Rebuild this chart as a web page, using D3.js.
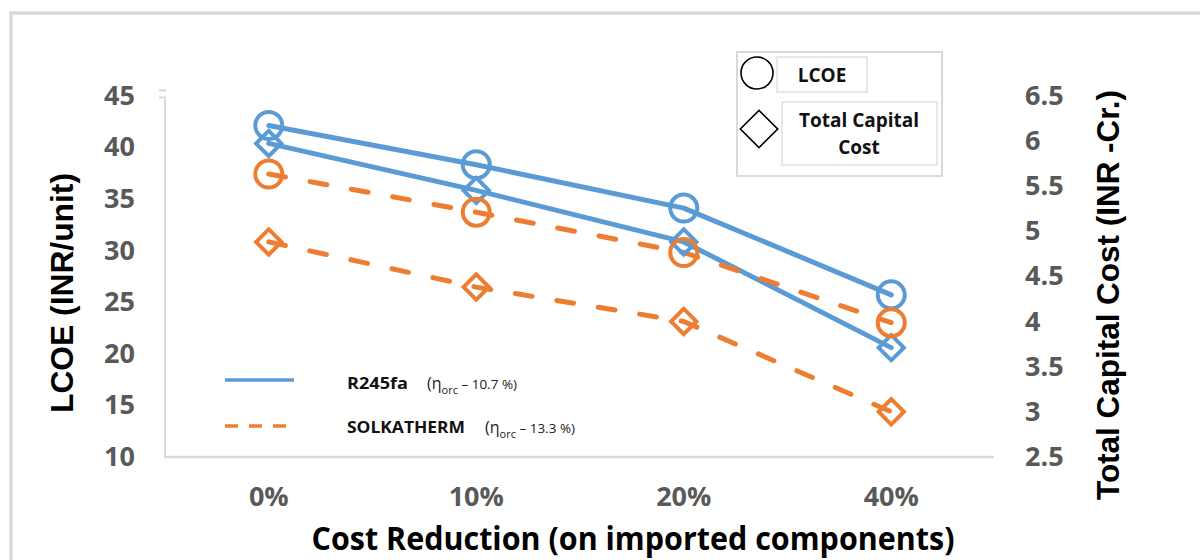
<!DOCTYPE html>
<html><head><meta charset="utf-8">
<script src="https://cdn.jsdelivr.net/npm/d3@7"></script>
<style>
html,body{margin:0;padding:0;background:#fff;}
svg{display:block;}
</style></head>
<body>
<svg id="chart" width="1200" height="560"></svg>
<script>
// ---- data ----
const categories = ["0%", "10%", "20%", "40%"];
const lcoeR245fa = [42.1, 38.3, 34.1, 25.7];
const lcoeSolkatherm = [37.4, 33.7, 29.8, 23.0];
const capR245fa = [5.97, 5.45, 4.88, 3.71];
const capSolkatherm = [4.88, 4.38, 4.0, 3.0];
const leftTicks = [10, 15, 20, 25, 30, 35, 40, 45];
const rightTicks = [2.5, 3, 3.5, 4, 4.5, 5, 5.5, 6, 6.5];
const leftDomain = [10, 45];
const rightDomain = [2.5, 6.5];

const BLUE = "#5B9BD5", ORANGE = "#ED7D31", GRAY = "#595959", LINEGRAY = "#d9d9d9";
const svg = d3.select("#chart");

// outer chart border
svg.append("rect").attr("x", 11).attr("y", 13).attr("width", 1250).attr("height", 600)
  .attr("fill", "none").attr("stroke", LINEGRAY).attr("stroke-width", 3.5);

const x = d3.scaleBand().domain(categories).range([165, 995]).padding(0);
const yL = d3.scaleLinear().domain(leftDomain).range([457, 95.5]);
const yR = d3.scaleLinear().domain(rightDomain).range([457, 95.5]);
const cx = d => x(d) + x.bandwidth() / 2;

// axes lines
svg.append("line").attr("x1", 165).attr("x2", 165).attr("y1", 99).attr("y2", 457)
  .attr("stroke", LINEGRAY).attr("stroke-width", 2);
svg.append("line").attr("x1", 159).attr("x2", 166).attr("y1", 90.5).attr("y2", 90.5)
  .attr("stroke", LINEGRAY).attr("stroke-width", 2);
svg.append("line").attr("x1", 159).attr("x2", 166).attr("y1", 97.5).attr("y2", 97.5)
  .attr("stroke", LINEGRAY).attr("stroke-width", 2);
svg.append("line").attr("x1", 164).attr("x2", 994).attr("y1", 457).attr("y2", 457)
  .attr("stroke", LINEGRAY).attr("stroke-width", 2.5);

function styleAxis(g) {
  g.select(".domain").remove();
  g.selectAll(".tick line").remove();
  g.selectAll(".tick text").attr("fill", GRAY)
    .style("font-family", "'Open Sans', sans-serif").style("font-weight", "bold").style("font-size", "27px");
}

svg.append("g").attr("transform", "translate(165,0)")
  .call(d3.axisLeft(yL).tickValues(leftTicks).tickSize(0).tickPadding(30).tickFormat(d3.format("d")))
  .call(styleAxis);
svg.append("g").attr("transform", "translate(995,0)")
  .call(d3.axisRight(yR).tickValues(rightTicks).tickSize(0).tickPadding(30).tickFormat(d => String(d)))
  .call(styleAxis);
svg.append("g").attr("transform", "translate(0,457)")
  .call(d3.axisBottom(x).tickSize(0).tickPadding(30))
  .call(styleAxis);

// axis titles
svg.append("text").attr("transform", "translate(73,293) rotate(-90)")
  .attr("text-anchor", "middle").attr("textLength", 240).attr("lengthAdjust", "spacingAndGlyphs")
  .style("font-family", "'Liberation Sans', Arial, sans-serif").style("font-weight", "bold").style("font-size", "31px")
  .text("LCOE (INR/unit)");
svg.append("text").attr("transform", "translate(1119,295) rotate(-90)")
  .attr("text-anchor", "middle").attr("textLength", 410).attr("lengthAdjust", "spacingAndGlyphs")
  .style("font-family", "'Liberation Sans', Arial, sans-serif").style("font-weight", "bold").style("font-size", "31px")
  .text("Total Capital Cost (INR -Cr.)");
svg.append("text").attr("x", 633).attr("y", 550)
  .attr("text-anchor", "middle").attr("textLength", 643).attr("lengthAdjust", "spacingAndGlyphs")
  .style("font-family", "'Open Sans', sans-serif").style("font-weight", "bold").style("font-size", "33px")
  .text("Cost Reduction (on imported components)");

// series
const series = [
  {vals: lcoeR245fa, y: yL, color: BLUE, dash: null, shape: "circle"},
  {vals: capR245fa, y: yR, color: BLUE, dash: null, shape: "diamond"},
  {vals: lcoeSolkatherm, y: yL, color: ORANGE, dash: "17 25", shape: "circle"},
  {vals: capSolkatherm, y: yR, color: ORANGE, dash: "17 25", shape: "diamond"}
];

series.forEach(s => {
  const pts = categories.map((c, i) => [cx(c), s.y(s.vals[i])]);
  svg.append("path").attr("d", d3.line()(pts)).attr("fill", "none")
    .attr("stroke", s.color).attr("stroke-width", 5).attr("stroke-linecap", "round")
    .attr("stroke-linejoin", "round").attr("stroke-dasharray", s.dash);
});
series.forEach(s => {
  const pts = categories.map((c, i) => [cx(c), s.y(s.vals[i])]);
  pts.forEach(p => {
    if (s.shape === "circle") {
      svg.append("circle").attr("cx", p[0]).attr("cy", p[1]).attr("r", 13.5)
        .attr("fill", "none").attr("stroke", s.color).attr("stroke-width", 4);
    } else {
      svg.append("path").attr("d", d3.symbol().type(d3.symbolSquare).size(320)())
        .attr("transform", `translate(${p[0]},${p[1]}) rotate(45)`)
        .attr("fill", "none").attr("stroke", s.color).attr("stroke-width", 4);
    }
  });
});

// top-right legend
const lg = svg.append("g");
lg.append("rect").attr("x", 737).attr("y", 52).attr("width", 205).attr("height", 124)
  .attr("fill", "#fff").attr("stroke", LINEGRAY).attr("stroke-width", 2);
lg.append("rect").attr("x", 777).attr("y", 57).attr("width", 90).attr("height", 35)
  .attr("fill", "#fff").attr("stroke", LINEGRAY).attr("stroke-width", 1.2);
lg.append("rect").attr("x", 782).attr("y", 102).attr("width", 155).attr("height", 63)
  .attr("fill", "#fff").attr("stroke", LINEGRAY).attr("stroke-width", 1.2);
lg.append("circle").attr("cx", 757).attr("cy", 73).attr("r", 16)
  .attr("fill", "none").attr("stroke", "#000").attr("stroke-width", 1.6);
lg.append("path").attr("d", d3.symbol().type(d3.symbolSquare).size(700)())
  .attr("transform", "translate(759,129) rotate(45)")
  .attr("fill", "none").attr("stroke", "#000").attr("stroke-width", 1.6);
const lt = (t, xx, yy) => lg.append("text").attr("x", xx).attr("y", yy).attr("text-anchor", "middle")
  .style("font-family", "'Open Sans', sans-serif").style("font-weight", "bold").style("font-size", "19px")
  .attr("fill", "#111").text(t);
lt("LCOE", 822, 82);
lt("Total Capital", 859, 127);
lt("Cost", 859, 154);

// bottom-left legend
svg.append("line").attr("x1", 225).attr("x2", 294).attr("y1", 380).attr("y2", 380)
  .attr("stroke", BLUE).attr("stroke-width", 3.5);
svg.append("line").attr("x1", 225).attr("x2", 286).attr("y1", 426).attr("y2", 426)
  .attr("stroke", ORANGE).attr("stroke-width", 3.5).attr("stroke-dasharray", "13 11");

function seriesLabel(name, nameW, xName, xEta, yy, eff) {
  svg.append("text").attr("x", xName).attr("y", yy).attr("textLength", nameW).attr("lengthAdjust", "spacingAndGlyphs")
    .style("font-family", "'Open Sans', sans-serif").style("font-weight", "bold").style("font-size", "16px")
    .attr("fill", "#111").text(name);
  const t = svg.append("text").attr("x", xEta).attr("y", yy)
    .style("font-family", "'Open Sans', sans-serif").style("font-size", "16px").attr("fill", "#222");
  t.append("tspan").text("(η");
  t.append("tspan").attr("dy", 5).style("font-size", "11px").text("orc");
  t.append("tspan").attr("dy", -5).style("font-size", "13.5px").text(" – " + eff + " %)");
}
seriesLabel("R245fa", 61, 347, 427, 389, "10.7");
seriesLabel("SOLKATHERM", 118, 347, 485, 433, "13.3");
</script>
</body></html>
